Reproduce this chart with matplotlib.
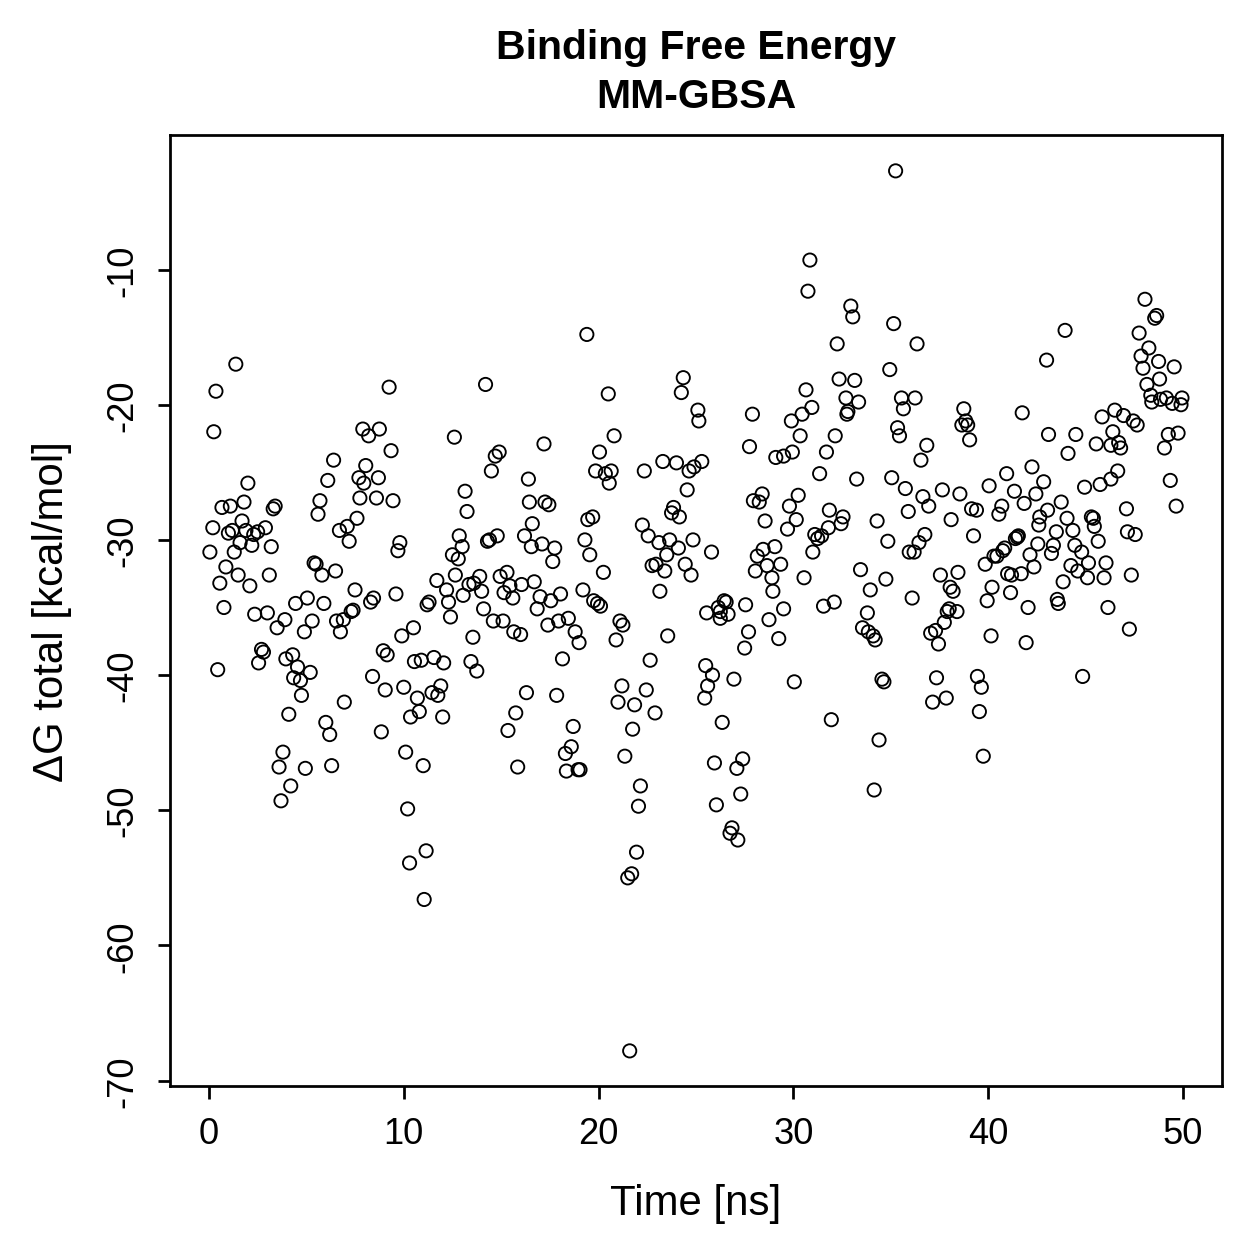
import numpy as np
import matplotlib
matplotlib.use("Agg")
import matplotlib.pyplot as plt

plt.rcParams['font.family'] = ['Liberation Sans', 'DejaVu Sans']

# time [ns] and total binding free energy [kcal/mol]
time_ns = [
    0.05, 0.2, 0.25, 0.36, 0.45, 0.56, 0.67, 0.77, 0.87, 1.0, 1.1, 1.2, 1.3, 1.38, 1.5, 1.6,
    1.7, 1.8, 1.9, 2.0, 2.1, 2.2, 2.3, 2.35, 2.5, 2.55, 2.7, 2.8, 2.9, 3.0, 3.1, 3.2,
    3.3, 3.4, 3.5, 3.6, 3.7, 3.8, 3.9, 3.95, 4.1, 4.2, 4.3, 4.35, 4.45, 4.55, 4.7, 4.75,
    4.9, 4.95, 5.05, 5.2, 5.3, 5.4, 5.5, 5.6, 5.7, 5.8, 5.9, 6.0, 6.1, 6.2, 6.3, 6.4,
    6.5, 6.55, 6.7, 6.75, 6.9, 6.95, 7.1, 7.2, 7.3, 7.4, 7.5, 7.6, 7.7, 7.75, 7.9, 7.95,
    8.05, 8.2, 8.3, 8.4, 8.45, 8.6, 8.7, 8.75, 8.85, 8.95, 9.05, 9.15, 9.25, 9.35, 9.45, 9.6,
    9.7, 9.8, 9.9, 10.0, 10.1, 10.2, 10.3, 10.35, 10.5, 10.55, 10.7, 10.8, 10.9, 11.0, 11.05, 11.15,
    11.2, 11.3, 11.45, 11.55, 11.7, 11.75, 11.9, 12.0, 12.05, 12.2, 12.3, 12.4, 12.5, 12.6, 12.65, 12.8,
    12.85, 13.0, 13.05, 13.15, 13.25, 13.35, 13.45, 13.55, 13.6, 13.75, 13.9, 14.0, 14.1, 14.2, 14.3, 14.4,
    14.5, 14.6, 14.7, 14.8, 14.9, 14.95, 15.1, 15.15, 15.3, 15.35, 15.45, 15.6, 15.65, 15.75, 15.85, 16.0,
    16.05, 16.2, 16.3, 16.4, 16.45, 16.55, 16.6, 16.7, 16.85,
    17.0, 17.1, 17.2, 17.25, 17.4, 17.45, 17.55, 17.65, 17.75, 17.85, 17.95, 18.05, 18.15, 18.3, 18.35, 18.45,
    18.6, 18.7, 18.8, 18.95, 19.0, 19.05, 19.2, 19.3, 19.4, 19.45, 19.55, 19.7, 19.75, 19.85, 19.95, 20.05,
    20.1, 20.25, 20.35, 20.5, 20.55, 20.65, 20.8, 20.9, 21.0, 21.1, 21.2, 21.25, 21.35, 21.5, 21.6, 21.7,
    21.75, 21.85, 21.95, 22.05, 22.15, 22.25, 22.35, 22.45, 22.55, 22.65, 22.75, 22.9, 22.95, 23.1, 23.15, 23.3,
    23.4, 23.5, 23.55, 23.65, 23.75, 23.85, 24.0, 24.1, 24.15, 24.25, 24.35, 24.45, 24.55, 24.65, 24.75, 24.85,
    24.9, 25.1, 25.15, 25.3, 25.5, 25.55, 25.6, 25.45,
    25.8, 25.85, 25.95, 26.05, 26.15, 26.25, 26.25, 26.35, 26.45, 26.55, 26.65, 26.75, 26.85, 26.95, 27.1, 27.15,
    27.3, 27.4, 27.5, 27.55, 27.7, 27.75, 27.9, 27.95, 28.05, 28.15, 28.25, 28.4, 28.45, 28.55, 28.65, 28.75,
    28.9, 28.95, 29.05, 29.1, 29.25, 29.35, 29.5, 29.5, 29.7, 29.8, 29.9, 29.95, 30.05, 30.15, 30.25, 30.35,
    30.45, 30.55, 30.65, 30.75, 30.85, 30.95, 31.0, 31.1, 31.25, 31.35, 31.45, 31.55, 31.7, 31.8, 31.85, 31.95,
    32.1, 32.15, 32.25, 32.35, 32.45, 32.55, 32.7, 32.75, 32.8, 32.95, 33.05, 33.15, 33.25, 33.35, 33.45, 33.55,
    33.8, 33.85, 33.95, 34.1, 34.2, 34.15, 34.4,
    34.3, 34.55, 34.65, 34.75, 34.85, 34.95, 35.05, 35.15, 35.25, 35.35, 35.45, 35.55, 35.65, 35.75, 35.9, 35.95,
    36.1, 36.2, 36.25, 36.35, 36.45, 36.55, 36.65, 36.75, 36.85, 36.95, 37.05, 37.15, 37.3, 37.35, 37.45, 37.55,
    37.65, 37.75, 37.85, 37.9, 38.0, 38.05, 38.1, 38.2, 38.4, 38.45, 38.55, 38.65, 38.75, 38.85, 38.95, 39.05,
    39.15, 39.25, 39.4, 39.45, 39.55, 39.65, 39.75, 39.85, 39.95, 40.05, 40.15, 40.2, 40.3, 40.45, 40.55, 40.7,
    40.75, 40.85, 40.95, 41.0, 41.15, 41.2, 41.35, 41.4, 41.5, 41.55, 41.7, 41.75, 41.85, 41.95, 42.05, 42.15,
    42.25, 42.35, 42.45, 42.55, 42.6, 42.65, 42.85,
    43.0, 43.05, 43.1, 43.25, 43.35, 43.5, 43.55, 43.6, 43.75, 43.85, 43.95, 44.05, 44.1, 44.25, 44.35, 44.45,
    44.5, 44.6, 44.8, 44.85, 44.95, 45.1, 45.15, 45.3, 45.4, 45.45, 45.55, 45.65, 45.75, 45.85, 45.95, 46.05,
    46.15, 46.3, 46.3, 46.4, 46.5, 46.65, 46.7, 46.8, 46.95, 47.1, 47.15, 47.25, 47.35, 47.45, 47.55, 47.65,
    47.75, 47.85, 47.95, 48.05, 48.15, 48.25, 48.35, 48.4, 48.55, 48.65, 48.75, 48.8, 48.85, 49.05, 49.15, 49.25,
    49.35, 49.45, 49.55, 49.65, 49.75, 49.9, 49.95,
]

delta_g = [
    -30.9, -29.1, -22.0, -19.0, -39.6, -33.2, -27.6, -35.0, -32.0, -29.5, -27.5, -29.3, -30.9, -17.0, -32.6, -30.2,
    -28.6, -27.2, -29.3, -25.8, -33.4, -30.4, -29.6, -35.5, -29.4, -39.1, -38.1, -38.3, -29.1, -35.4, -32.6, -30.5,
    -27.7, -27.5, -36.5, -46.8, -49.3, -45.7, -35.9, -38.8, -42.9, -48.2, -38.5, -40.2, -34.7, -39.4, -40.4, -41.5,
    -36.8, -46.9, -34.3, -39.8, -36.0, -31.7, -31.8, -28.1, -27.1, -32.6, -34.7, -43.5, -25.6, -44.4, -46.7, -24.1,
    -32.3, -36.0, -29.3, -36.8, -35.9, -42.0, -29.0, -30.1, -35.3, -35.2, -33.7, -28.4, -25.4, -26.9, -21.8, -25.8,
    -24.5, -22.3, -34.6, -40.1, -34.3, -26.9, -25.4, -21.8, -44.2, -38.2, -41.1, -38.5, -18.7, -23.4, -27.1, -34.0,
    -30.8, -30.2, -37.1, -40.9, -45.7, -49.9, -53.9, -43.1, -36.5, -39.0, -41.7, -42.7, -38.9, -46.7, -56.6, -53.0,
    -34.8, -34.6, -41.3, -38.7, -33.0, -41.5, -40.8, -43.1, -39.1, -33.7, -34.6, -35.7, -31.1, -22.4, -32.6, -31.4,
    -29.7, -30.5, -34.1, -26.4, -27.9, -33.3, -39.0, -37.2, -33.2, -39.7, -32.7, -33.8, -35.1, -18.5, -30.1, -30.0,
    -24.9, -36.0, -23.8, -29.7, -23.5, -32.7, -36.0, -33.9, -32.4, -44.1, -33.4, -34.3, -36.8, -42.8, -46.8, -37.0,
    -33.3, -29.7, -41.3, -25.5, -27.2, -30.5, -28.8, -33.1, -35.1,
    -34.2, -30.3, -22.9, -27.2, -36.3, -27.4, -34.5, -31.6, -30.6, -41.5, -36.0, -34.0, -38.8, -45.8, -47.1, -35.8,
    -45.3, -43.8, -36.8, -47.0, -37.6, -47.0, -33.7, -30.0, -14.8, -28.5, -31.1, -28.3, -34.5, -24.9, -34.7, -23.5,
    -34.9, -32.4, -25.1, -19.2, -25.8, -24.9, -22.3, -37.4, -42.0, -36.0, -40.8, -36.3, -46.0, -55.0, -67.8, -54.7,
    -44.0, -42.2, -53.1, -49.7, -48.2, -28.9, -24.9, -41.1, -29.7, -38.9, -31.9, -42.8, -31.8, -30.2, -33.8, -24.2,
    -32.3, -31.1, -37.1, -30.0, -28.0, -27.6, -24.3, -30.6, -28.3, -19.1, -18.0, -31.8, -26.3, -24.9, -32.6, -30.0,
    -24.6, -20.4, -21.2, -24.2, -39.3, -35.4, -40.8, -41.7,
    -30.9, -40.0, -46.5, -49.6, -35.0, -35.3, -35.8, -43.5, -34.5, -34.6, -35.5, -51.7, -51.3, -40.3, -46.9, -52.2,
    -48.8, -46.2, -38.0, -34.8, -36.8, -23.1, -20.7, -27.1, -32.3, -31.2, -27.2, -26.6, -30.7, -28.6, -31.9, -35.9,
    -32.8, -33.8, -30.5, -23.9, -37.3, -31.8, -23.8, -35.1, -29.2, -27.5, -21.2, -23.5, -40.5, -28.5, -26.7, -22.3,
    -20.7, -32.8, -18.9, -11.6, -9.3, -20.2, -30.9, -29.6, -29.9, -25.1, -29.7, -34.9, -23.5, -29.1, -27.8, -43.3,
    -34.6, -22.3, -15.5, -18.1, -28.8, -28.3, -19.5, -20.7, -20.5, -12.7, -13.5, -18.2, -25.5, -19.8, -32.2, -36.5,
    -35.4, -36.8, -33.7, -37.1, -37.4, -48.5, -44.8,
    -28.6, -40.3, -40.5, -32.9, -30.1, -17.4, -25.4, -14.0, -2.7, -21.7, -22.3, -19.5, -20.3, -26.2, -27.9, -30.9,
    -34.3, -30.9, -19.5, -15.5, -30.2, -24.1, -26.8, -29.6, -23.0, -27.5, -36.9, -42.0, -36.7, -40.2, -37.7, -32.6,
    -26.3, -36.1, -41.7, -35.3, -35.1, -33.5, -28.5, -33.8, -35.3, -32.4, -26.6, -21.5, -20.3, -21.2, -21.5, -22.6,
    -27.7, -29.7, -27.8, -40.1, -42.7, -40.9, -46.0, -31.8, -34.5, -26.0, -37.1, -33.5, -31.2, -31.2, -28.1, -27.5,
    -30.8, -30.6, -25.1, -32.5, -33.9, -32.6, -26.4, -29.9, -29.8, -29.7, -32.5, -20.6, -27.3, -37.6, -35.0, -31.1,
    -24.6, -32.0, -26.6, -30.3, -28.9, -28.3, -25.7,
    -16.7, -27.8, -22.2, -31.0, -30.4, -29.4, -34.4, -34.7, -27.2, -33.1, -14.5, -28.4, -23.6, -31.9, -29.3, -30.4,
    -22.2, -32.3, -30.9, -40.1, -26.1, -32.8, -31.7, -28.3, -28.4, -29.0, -22.9, -30.1, -25.9, -20.9, -32.8, -31.7,
    -35.0, -25.5, -23.0, -22.0, -20.4, -24.9, -22.8, -23.2, -20.8, -27.7, -29.4, -36.6, -32.6, -21.2, -29.6, -21.5,
    -14.7, -16.4, -17.3, -12.2, -18.5, -15.8, -19.3, -19.8, -13.6, -13.4, -16.8, -18.1, -19.6, -23.2, -19.5, -22.2,
    -25.6, -19.9, -17.2, -27.5, -22.1, -20.0, -19.5,
]

x_ticks = [0, 10, 20, 30, 40, 50]
y_ticks = [-70, -60, -50, -40, -30, -20, -10]

fig = plt.figure(figsize=(6.994, 6.994), dpi=180)
ax = fig.add_axes([0.135, 0.1366, 0.8356, 0.7554])

ax.scatter(time_ns, delta_g, s=28, facecolors='none', edgecolors='black', linewidths=0.75)

ax.set_xlim(-2, 52)
ax.set_ylim(-70.4, -0.05)
ax.set_xticks(x_ticks)
ax.set_yticks(y_ticks)
ax.set_yticklabels([str(v) for v in y_ticks], rotation=90, va='center')

ax.tick_params(direction='out', length=5, width=1.1, labelsize=14.5, pad=7)
ax.tick_params(axis='y', pad=7)
for sp in ax.spines.values():
    sp.set_linewidth(1.1)

ax.set_xlabel('Time [ns]', fontsize=16.8, labelpad=13)
ax.set_ylabel('ΔG total [kcal/mol]', fontsize=16.8, labelpad=13)
ax.set_title('Binding Free Energy\nMM-GBSA', fontsize=16.4, fontweight='bold', pad=11, linespacing=1.38)

fig.savefig('out.png', dpi=180)
